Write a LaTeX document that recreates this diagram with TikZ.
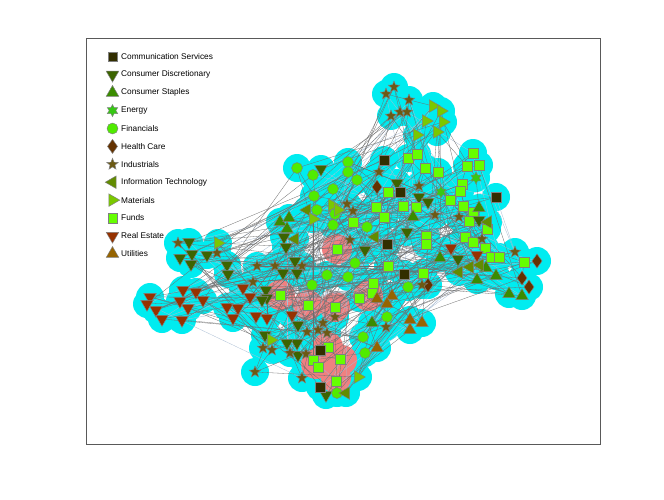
\documentclass[tikz,border=0pt]{standalone}
\usepackage{fontspec}
\setmainfont{Liberation Sans}
\usetikzlibrary{shapes.geometric}
\definecolor{cComm}{RGB}{50,46,0}
\definecolor{cDisc}{RGB}{60,100,0}
\definecolor{cStap}{RGB}{58,140,0}
\definecolor{cEner}{RGB}{55,200,20}
\definecolor{cFin}{RGB}{80,235,0}
\definecolor{cHea}{RGB}{100,50,0}
\definecolor{cInd}{RGB}{108,90,20}
\definecolor{cIT}{RGB}{98,140,0}
\definecolor{cMat}{RGB}{122,200,0}
\definecolor{cFund}{RGB}{102,255,0}
\definecolor{cRE}{RGB}{150,50,0}
\definecolor{cUti}{RGB}{150,100,0}
\definecolor{halo}{RGB}{0,236,240}
\definecolor{pinkhalo}{RGB}{240,128,128}
\definecolor{edgegray}{RGB}{110,110,110}
\definecolor{edgeblue}{RGB}{170,190,212}
\tikzset{
  mk/.style={inner sep=0pt, outer sep=0pt, draw=black!50, line width=0.45pt},
  tri/.style={mk, regular polygon, regular polygon sides=3, minimum size=14.5},
  tQ/.style={mk, rectangle, fill=cFund, minimum size=9.5},
  tC/.style={mk, rectangle, fill=cComm, minimum size=9.5},
  tD/.style={tri, shape border rotate=180, fill=cDisc},
  tS/.style={tri, fill=cStap},
  tT/.style={tri, shape border rotate=90, fill=cIT},
  tM/.style={tri, shape border rotate=270, fill=cMat},
  tR/.style={tri, shape border rotate=180, fill=cRE},
  tU/.style={tri, fill=cUti},
  tH/.style={mk, diamond, fill=cHea, minimum width=10, minimum height=14},
  tI/.style={mk, star, star points=5, star point ratio=2.3, minimum size=12, fill=cInd},
  tE/.style={mk, star, star points=6, star point ratio=1.8, minimum size=12, fill=cEner},
  tF/.style={mk, circle, fill=cFin, minimum size=11},
  lgtext/.style={anchor=west, inner sep=0pt, font=\fontsize{8.3}{10}\selectfont},
  edge/.style={draw=edgegray, line width=0.3pt},
  edgeb/.style={draw=edgeblue, line width=0.3pt},
}
\def\nodelist{178/243/I, 189/242/D, 218/243/M, 217/253/I, 180/258/D, 192/254/D, 191/264/D, 207/255/D, 227/265/D, 228/274/D,
150/297/R, 147/304/R, 156/310/R, 162/319/R, 183/290/R, 196/292/R, 203/300/R, 180/301/R, 188/308/R, 182/320/R, 227/307/R, 238/308/R, 233/318/R, 243/288/R, 250/297/R, 256/316/R, 267/318/R, 292/315/R,
257/266/I, 275/266/I, 302/266/I, 284/237/D, 286/247/D, 295/261/D, 283/273/D, 297/273/D, 253/282/I, 266/290/D, 267/298/D, 262/300/D, 265/335/D, 298/325/D, 297/343/D, 287/343/D, 298/355/D, 326/395/D, 271/340/M, 263/348/I, 272/350/I, 290/353/I, 306/354/I, 307/332/I, 318/330/I, 327/333/I, 255/372/I, 302/378/I, 335/317/I, 323/323/I,
297/168/F, 313/175/F, 314/196/F, 333/189/F, 348/162/F, 348/172/F, 357/180/F, 335/214/F, 317/210/F, 321/169/D, 307/210/T, 295/239/T, 313/219/M, 332/205/M, 338/210/M, 280/222/S, 289/218/S, 287/229/S, 347/204/I, 353/211/I, 353/222/Q,
384/160/C, 377/187/H, 379/172/I, 397/183/D, 419/186/I, 419/197/D, 428/202/D, 388/192/Q, 400/192/C, 403/206/Q, 416/207/Q, 376/207/Q, 384/217/Q, 387/244/C, 404/274/C, 426/236/Q, 426/244/Q, 407/232/D, 413/217/S, 375/237/T, 333/225/F, 367/227/F, 373/283/Q, 312/285/F, 327/275/F, 355/263/F, 348/277/F, 359/298/Q, 372/293/Q, 388/266/Q, 423/273/Q, 428/285/H, 408/287/F, 422/285/I, 350/240/I, 365/250/D,
337/249/Q, 280/295/Q, 308/305/Q, 335/307/Q, 328/347/Q, 313/360/Q, 318/367/Q, 340/359/Q, 336/381/Q,
377/299/U, 392/296/U, 387/304/U, 410/320/U, 422/323/U, 410/330/U, 377/348/U, 387/317/F, 365/353/F, 363/337/F, 337/393/F, 372/323/S, 358/377/M, 346/393/T, 320/350/C, 320/387/C, 386/327/I,
386/94/I, 394/87/I, 409/100/I, 400/112/I, 407/112/I, 391/116/I, 433/106/M, 441/111/M, 426/121/M, 443/122/M, 417/135/M, 437/132/M,
408/158/Q, 417/154/Q, 473/153/Q, 425/168/Q, 438/172/Q, 467/166/Q, 479/165/Q, 462/184/Q, 460/191/Q, 450/200/Q, 463/206/Q, 473/212/Q, 469/221/Q, 487/229/Q, 465/237/Q, 473/242/Q, 485/248/Q, 491/257/Q, 499/257/Q, 524/262/Q,
496/197/C, 476/178/E, 441/192/E, 479/220/D, 458/259/D, 435/215/I, 459/217/I, 482/239/I, 515/252/I, 451/248/R, 477/255/R, 479/208/S, 486/268/S, 496/276/S, 477/280/S, 509/294/S, 522/296/S, 440/258/S, 459/272/T, 470/267/T, 480/265/T, 488/222/T, 537/261/H, 522/278/H, 529/287/H}
\begin{document}
\begin{tikzpicture}[x=1pt, y=-1pt]
\useasboundingbox (0,0) rectangle (664,499);
\fill[white] (0,0) rectangle (664,499);
% frame
\draw[black!65, line width=0.6pt] (86,38) rectangle (600,444);
% halos and coordinates
\foreach \x/\y/\t [count=\i] in \nodelist {
  \coordinate (n\i) at (\x,\y);
  \fill[halo] (n\i) circle (14pt);
  \xdef\N{\i}
}
% pink halos
\foreach \px/\py [count=\k] in {337/249, 280/295, 308/305, 335/307, 368/296, 328/347, 316/364, 342/360, 336/378} {
  \coordinate (p\k) at (\px,\py);
  \fill[pinkhalo] (p\k) circle (15pt);
}
% edges
\foreach \i in {2,4,...,\N} {
  \pgfmathtruncatemacro\ja{mod(\i*13+97,\N)+1}
  \draw[edgeb] (n\i) -- (n\ja);
}
\foreach \i in {1,...,\N} {
  \pgfmathtruncatemacro\ja{mod(\i*37+11,\N)+1}
  \draw[edge] (n\i) -- (n\ja);
}
\foreach \i in {1,3,...,\N} {
  \pgfmathtruncatemacro\jb{mod(\i*71+29,\N)+1}
  \draw[edge] (n\i) -- (n\jb);
}
% markers
\foreach \x/\y/\t [count=\i] in \nodelist {
  \node[t\t] (m\i) at (n\i) {};
}
% legend
\foreach \t/\lab [count=\k] in {C/Communication Services, D/Consumer Discretionary, S/Consumer Staples, E/Energy, F/Financials, H/Health Care, I/Industrials, T/Information Technology, M/Materials, Q/Funds, R/Real Estate, U/Utilities} {
  \node[t\t] (lg\k) at (112.5, 39+17.9*\k) {};
  \node[lgtext] (lt\k) at (121, 39+17.9*\k) {\lab};
}
\end{tikzpicture}
\end{document}
